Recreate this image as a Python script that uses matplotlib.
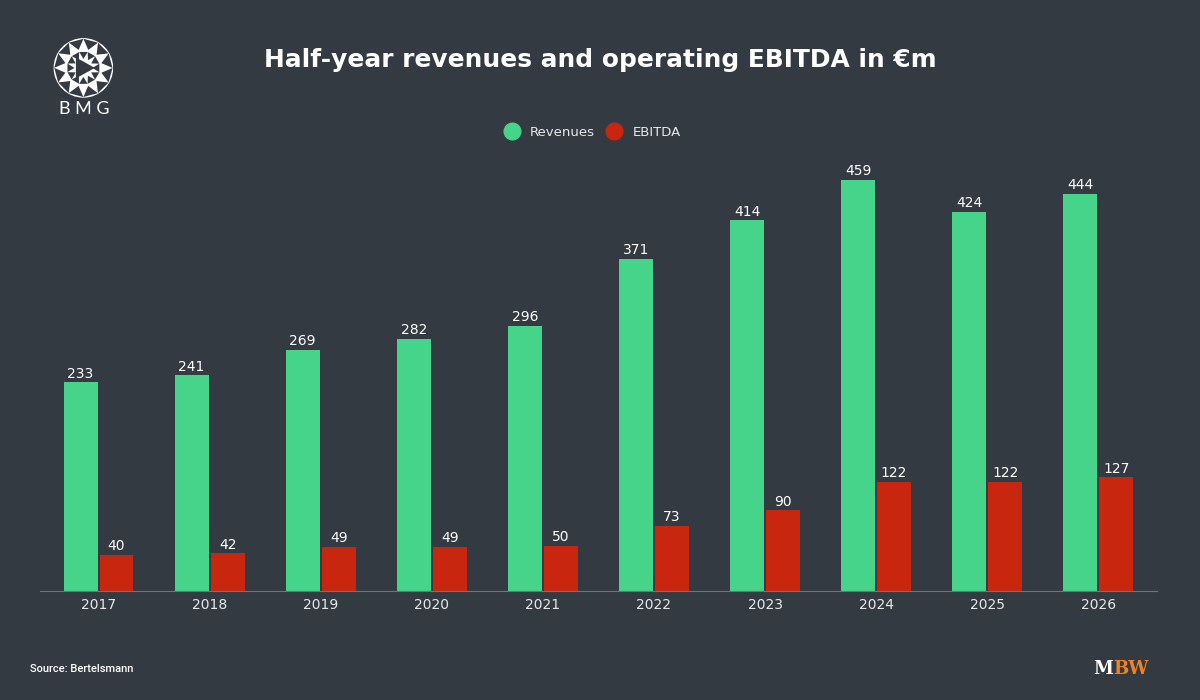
import numpy as np
import matplotlib.pyplot as plt
from matplotlib.patches import Circle, Polygon

years = ['2017', '2018', '2019', '2020', '2021', '2022', '2023', '2024', '2025', '2026']
revenues = [233, 241, 269, 282, 296, 371, 414, 459, 424, 444]
ebitda = [40, 42, 49, 49, 50, 73, 90, 122, 122, 127]

bg = '#343a42'
green = '#46d38a'
red = '#c8260f'

plt.rcParams['font.family'] = ['DejaVu Sans']

fig = plt.figure(figsize=(12, 7), dpi=100, facecolor=bg)
ax = fig.add_axes([0.0333, 0.1557, 0.9307, 0.63])
ax.set_facecolor(bg)

x = np.arange(len(years))
w = 0.306
b1 = ax.bar(x - w / 2 - 0.009, revenues, w, color=green, label='Revenues')
b2 = ax.bar(x + w / 2 + 0.009, ebitda, w, color=red, label='EBITDA')

for bars in (b1, b2):
    for r in bars:
        ax.text(r.get_x() + r.get_width() / 2, r.get_height() + 2, f'{r.get_height():.0f}',
                ha='center', va='bottom', color='white', fontsize=10)

ax.set_xlim(-0.527, len(years) - 0.473)
ax.set_ylim(0, 492.7)
ax.set_xticks(x)
ax.set_xticklabels(years, color='#e8e8e8', fontsize=10)
ax.tick_params(axis='x', length=0, pad=5)
ax.set_yticks([])
for s in ['top', 'right', 'left']:
    ax.spines[s].set_visible(False)
ax.spines['bottom'].set_color('#6f747b')

fig.text(0.5, 0.914, 'Half-year revenues and operating EBITDA in €m', ha='center', va='center',
         color='white', fontsize=17.9, fontweight='bold')

# legend
fig.legend(handles=[plt.Line2D([], [], marker='o', ls='', color=green, markersize=12),
                    plt.Line2D([], [], marker='o', ls='', color=red, markersize=12)],
           labels=['Revenues', 'EBITDA'], loc='center', bbox_to_anchor=(0.4915, 0.811), ncol=2,
           frameon=False, labelcolor='#e8e8e8', fontsize=9.5, handletextpad=0.4, columnspacing=0.45)

fig.text(0.025, 0.04, 'Source: Bertelsmann', color='white', fontsize=8,
         family=['Roboto', 'DejaVu Sans'], fontweight='medium')

# MBW logo
fig.text(0.9275, 0.045, 'M', color='white', fontsize=13, fontweight='bold', family='DejaVu Serif',
         ha='right', va='center')
fig.text(0.9275, 0.045, 'BW', color='#f08223', fontsize=13, fontweight='bold', family='DejaVu Serif',
         ha='left', va='center')

# BMG logo
lax = fig.add_axes([0.0445, 0.86, 0.05, 0.086])
lax.set_xlim(-1, 1)
lax.set_ylim(-1, 1)
lax.set_aspect('equal')
lax.axis('off')
lax.add_patch(Circle((0, 0), 0.97, color='white'))
ang = np.linspace(0, 2 * np.pi, 13)
for a in ang[:-1]:
    p = [(0.97 * np.cos(a), 0.97 * np.sin(a)),
         (0.62 * np.cos(a + 0.26), 0.62 * np.sin(a + 0.26)),
         (0.97 * np.cos(a + 0.52), 0.97 * np.sin(a + 0.52))]
    lax.add_patch(Polygon(p, color=bg, lw=0))
for a in ang[:-1] + 0.26:
    p = [(0.55 * np.cos(a), 0.55 * np.sin(a)),
         (0.3 * np.cos(a + 0.26), 0.3 * np.sin(a + 0.26)),
         (0.55 * np.cos(a + 0.52), 0.55 * np.sin(a + 0.52))]
    lax.add_patch(Polygon(p, color=bg, lw=0))
lax.add_patch(Polygon([(-0.25, -0.35), (-0.25, 0.35), (0.38, 0)], color=bg, lw=0))
fig.text(0.07, 0.845, 'B M G', color='white', fontsize=13, ha='center', va='center',
         family=['Lato', 'DejaVu Sans'])

fig.savefig('out.png', facecolor=bg)
